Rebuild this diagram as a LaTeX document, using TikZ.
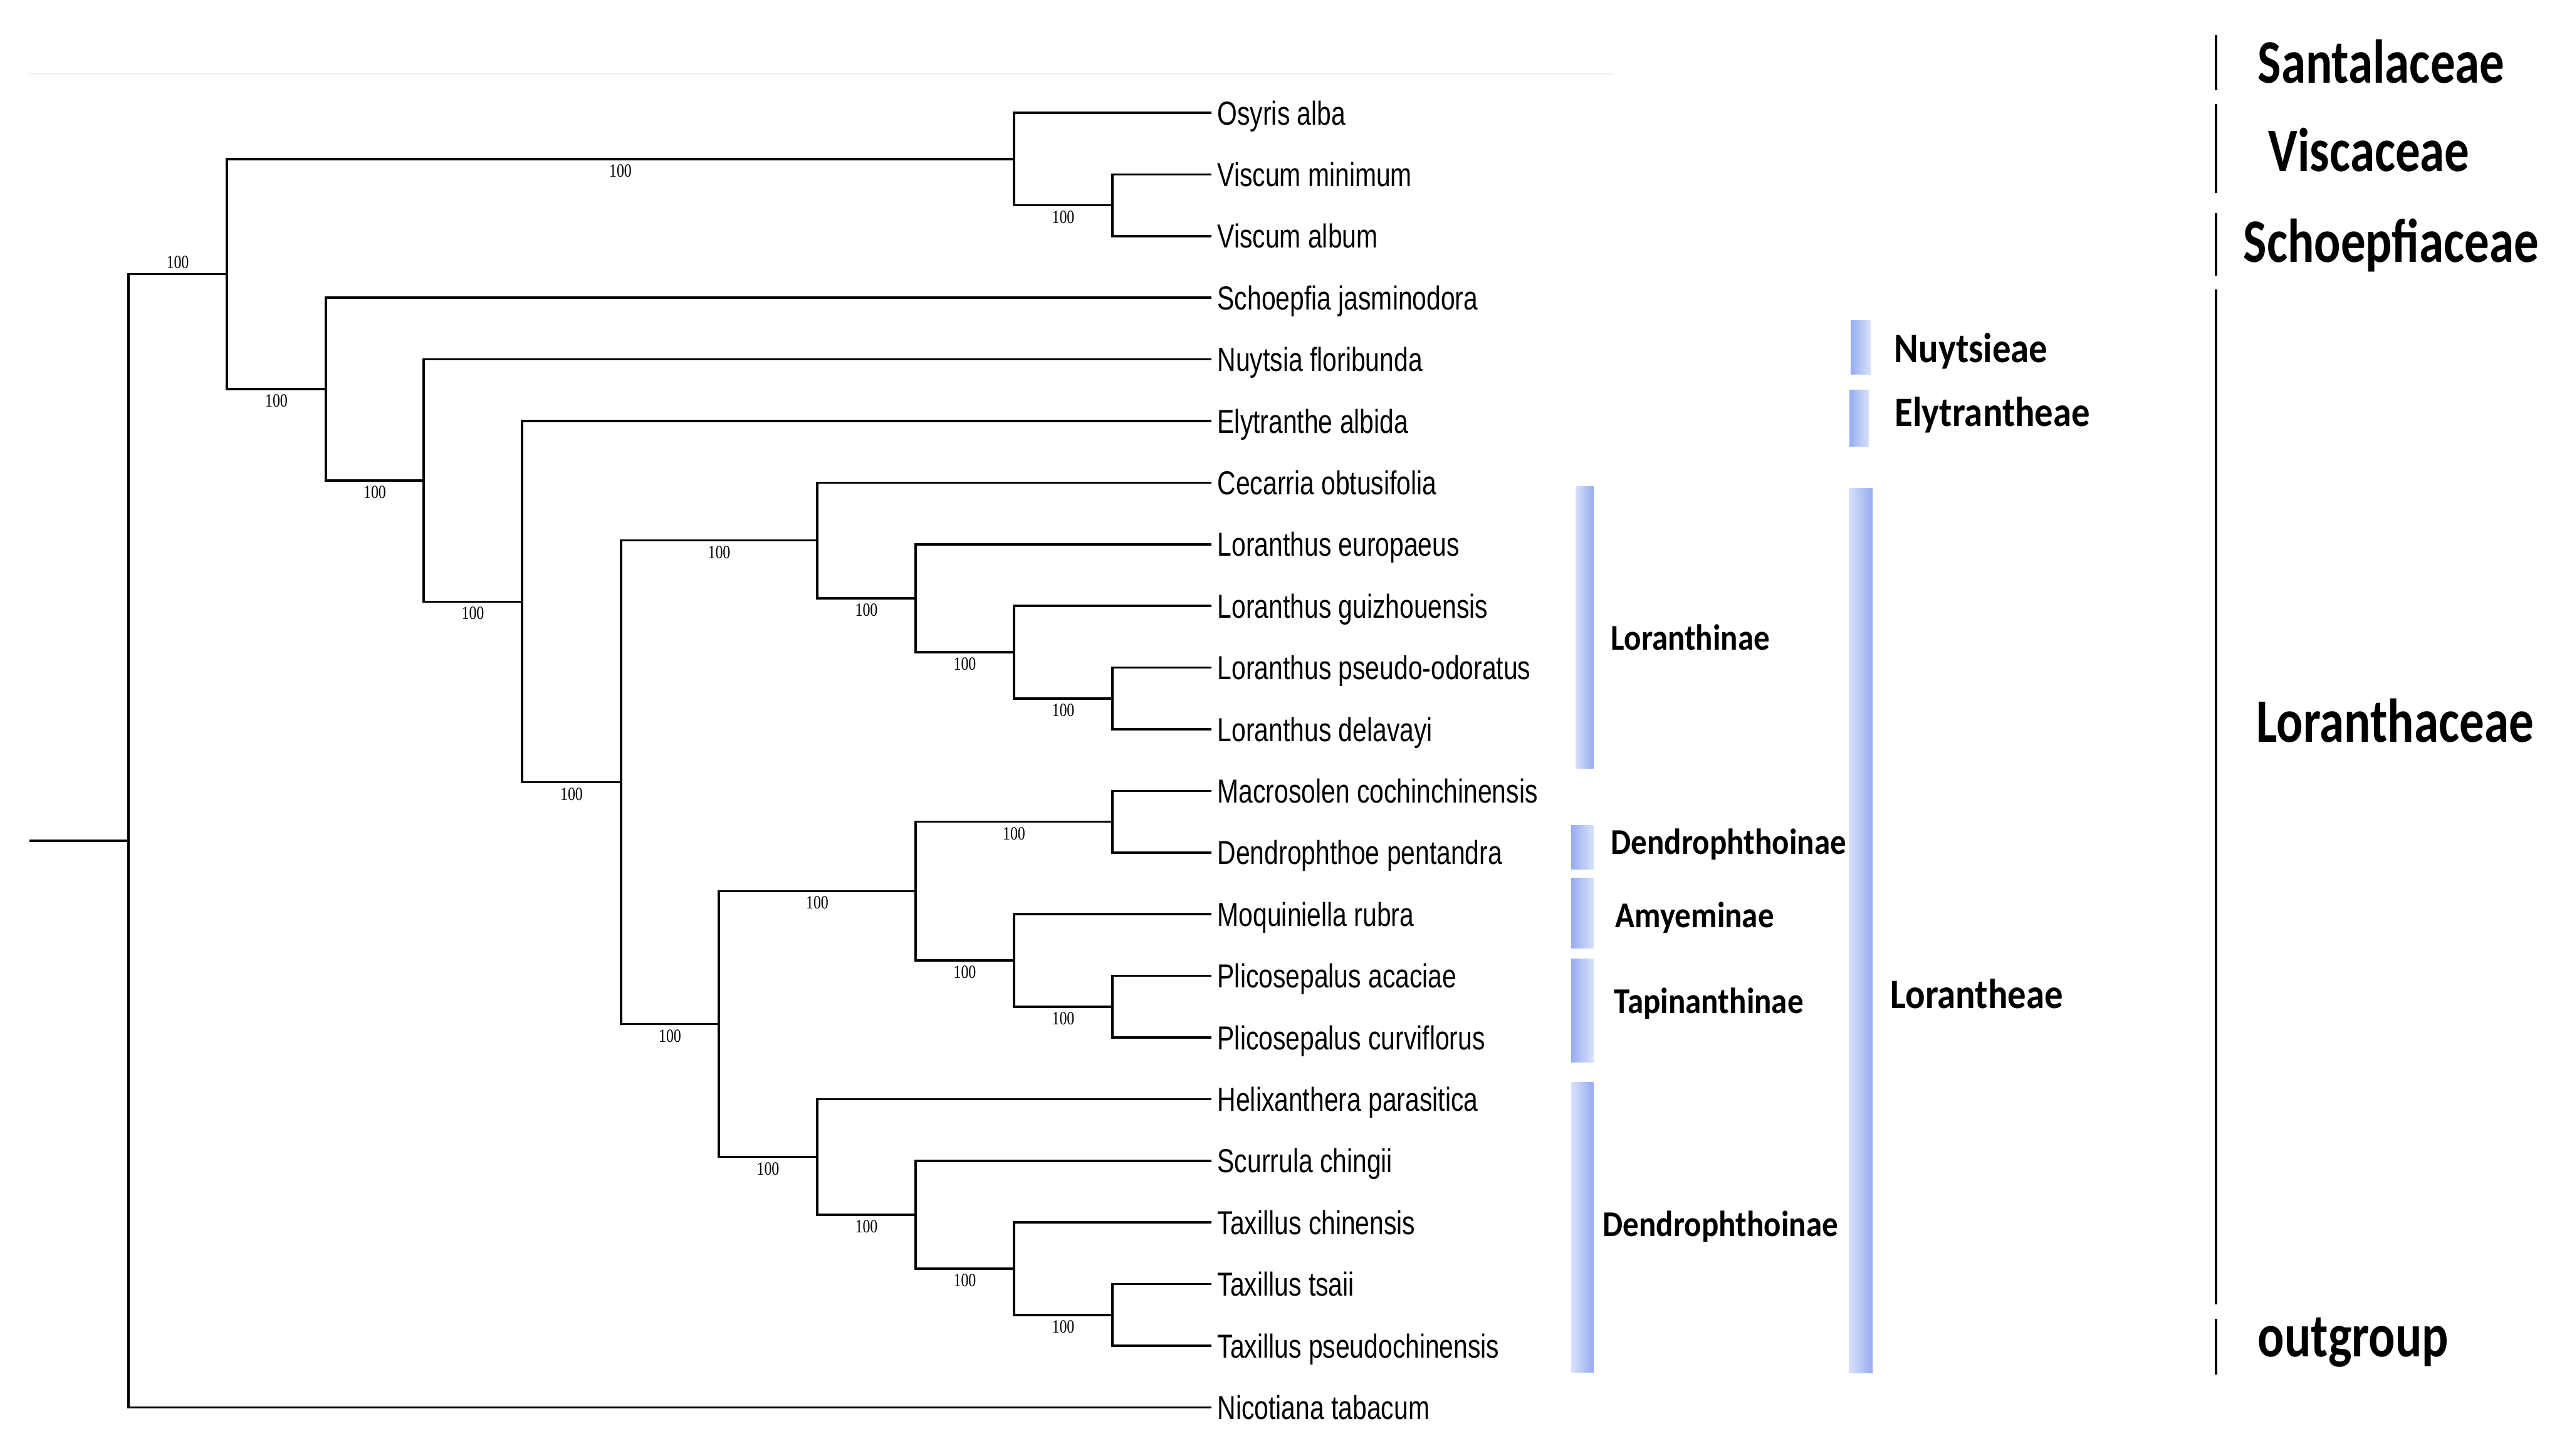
\documentclass[tikz,border=0pt]{standalone}
\usepackage{fontspec}
\usepackage{tikz}
\newfontfamily\tipfont[FakeStretch=0.77]{Liberation Sans}
\newfontfamily\bootfont[FakeStretch=0.8]{Liberation Serif}
\newfontfamily\famfont[FakeStretch=0.8]{Carlito}
\newfontfamily\clafont[FakeStretch=0.88]{Carlito}
\definecolor{barblue}{RGB}{150,172,240}
\definecolor{barpale}{RGB}{216,225,251}
\pgfdeclarelayer{bg}
\pgfsetlayers{bg,main}
\tikzset{
    every node/.style={inner sep=0mm},
    tip/.style={anchor=west, inner xsep=1.1mm, text height=3.8mm, text depth=0mm,
        font=\tipfont\fontsize{15.1}{18}\selectfont},
    boot/.style={pos=.75, below, inner sep=0.7mm, font=\bootfont\fontsize{8.5}{9}\selectfont},
    hv/.style={to path={|- (\tikztotarget) \tikztonodes}},
    branch/.style={line width=1pt, line cap=rect},
    fam/.style={anchor=west, text height=6.3mm, text depth=0mm,
        font=\famfont\bfseries\fontsize{28.1}{30}\selectfont},
    tribe/.style={anchor=west, text height=4.2mm, text depth=0mm,
        font=\clafont\bfseries\fontsize{19}{21}\selectfont},
    subtribe/.style={anchor=west, text height=3.7mm, text depth=0mm,
        font=\clafont\bfseries\fontsize{16.5}{18}\selectfont},
    darkleft/.style={left color=barblue, right color=barpale},
    darkright/.style={left color=barpale, right color=barblue},
    famline/.style={line width=1pt}
}

\begin{document}
\begin{tikzpicture}
    \useasboundingbox (0cm, 0cm) rectangle (40.96cm, -23.23cm);

    % tips
    \node (osyris) [tip] at (19.31cm, -1.800cm) {Osyris alba};
    \node (vminimum) [tip] at (19.31cm, -2.784cm) {Viscum minimum};
    \node (valbum) [tip] at (19.31cm, -3.768cm) {Viscum album};
    \node (schoepfia) [tip] at (19.31cm, -4.752cm) {Schoepfia jasminodora};
    \node (nuytsia) [tip] at (19.31cm, -5.736cm) {Nuytsia floribunda};
    \node (elytranthe) [tip] at (19.31cm, -6.720cm) {Elytranthe albida};
    \node (cecarria) [tip] at (19.31cm, -7.704cm) {Cecarria obtusifolia};
    \node (leuropaeus) [tip] at (19.31cm, -8.688cm) {Loranthus europaeus};
    \node (lguizhou) [tip] at (19.31cm, -9.672cm) {Loranthus guizhouensis};
    \node (lpseudo) [tip] at (19.31cm, -10.656cm) {Loranthus pseudo-odoratus};
    \node (ldelavayi) [tip] at (19.31cm, -11.640cm) {Loranthus delavayi};
    \node (macrosolen) [tip] at (19.31cm, -12.624cm) {Macrosolen cochinchinensis};
    \node (dendrophthoe) [tip] at (19.31cm, -13.608cm) {Dendrophthoe pentandra};
    \node (moquiniella) [tip] at (19.31cm, -14.592cm) {Moquiniella rubra};
    \node (placaciae) [tip] at (19.31cm, -15.576cm) {Plicosepalus acaciae};
    \node (plcurvi) [tip] at (19.31cm, -16.560cm) {Plicosepalus curviflorus};
    \node (helixanthera) [tip] at (19.31cm, -17.544cm) {Helixanthera parasitica};
    \node (scurrula) [tip] at (19.31cm, -18.528cm) {Scurrula chingii};
    \node (tchinensis) [tip] at (19.31cm, -19.512cm) {Taxillus chinensis};
    \node (ttsaii) [tip] at (19.31cm, -20.496cm) {Taxillus tsaii};
    \node (tpseudo) [tip] at (19.31cm, -21.480cm) {Taxillus pseudochinensis};
    \node (nicotiana) [tip] at (19.31cm, -22.464cm) {Nicotiana tabacum};

    % inner nodes
    \coordinate (stub) at (0.49cm, -13.420cm);
    \coordinate (root) at (2.05cm, -13.420cm);
    \coordinate (n1) at (3.62cm, -4.375cm);
    \coordinate (sv) at (16.18cm, -2.538cm);
    \coordinate (vis) at (17.75cm, -3.276cm);
    \coordinate (n2) at (5.20cm, -6.211cm);
    \coordinate (n3) at (6.76cm, -7.670cm);
    \coordinate (n4) at (8.33cm, -9.603cm);
    \coordinate (n5) at (9.91cm, -12.486cm);
    \coordinate (cec) at (13.04cm, -8.627cm);
    \coordinate (lor1) at (14.61cm, -9.549cm);
    \coordinate (lor2) at (16.18cm, -10.410cm);
    \coordinate (lor3) at (17.75cm, -11.148cm);
    \coordinate (low) at (11.47cm, -16.345cm);
    \coordinate (md) at (14.61cm, -14.223cm);
    \coordinate (mac) at (17.75cm, -13.116cm);
    \coordinate (moq) at (16.18cm, -15.330cm);
    \coordinate (pli) at (17.75cm, -16.068cm);
    \coordinate (hel) at (13.04cm, -18.467cm);
    \coordinate (tax1) at (14.61cm, -19.389cm);
    \coordinate (tax2) at (16.18cm, -20.250cm);
    \coordinate (tax3) at (17.75cm, -20.988cm);

    % groups
    \node (santalaceae) [fam] at (36.02cm, -1.01cm) {Santalaceae};
    \node (viscaceae) [fam] at (36.19cm, -2.42cm) {Viscaceae};
    \node (schoepfiaceae) [fam] at (35.79cm, -3.87cm) {Schoepfiaceae};
    \node (loranthaceae) [fam] at (36.00cm, -11.53cm) {Loranthaceae};
    \node (outgroup) [fam] at (36.02cm, -21.34cm) {outgroup};

    \node (nuytsieae) [tribe] at (30.22cm, -5.57cm) {Nuytsieae};
    \node (elytrantheae) [tribe] at (30.23cm, -6.59cm) {Elytrantheae};
    \node (lorantheae) [tribe] at (30.16cm, -15.88cm) {Lorantheae};

    \node (loranthinae) [subtribe] at (25.70cm, -10.19cm) {Loranthinae};
    \node (dendroA) [subtribe] at (25.70cm, -13.45cm) {Dendrophthoinae};
    \node (amyeminae) [subtribe] at (25.77cm, -14.62cm) {Amyeminae};
    \node (tapinanthinae) [subtribe] at (25.75cm, -15.99cm) {Tapinanthinae};
    \node (dendroB) [subtribe] at (25.57cm, -19.55cm) {Dendrophthoinae};

    \begin{pgfonlayer}{bg}
        \draw[black!6, line width=0.5pt] (0.47cm, -1.18cm) -- (25.73cm, -1.18cm);

        \shade[darkleft] (29.53cm, -5.11cm) rectangle (29.85cm, -5.97cm);
        \shade[darkleft] (29.51cm, -6.22cm) rectangle (29.82cm, -7.12cm);
        \shade[darkright] (29.50cm, -7.79cm) rectangle (29.88cm, -21.91cm);
        \shade[darkright] (25.14cm, -7.76cm) rectangle (25.43cm, -12.26cm);
        \shade[darkleft] (25.07cm, -13.17cm) rectangle (25.43cm, -13.87cm);
        \shade[darkleft] (25.07cm, -14.01cm) rectangle (25.43cm, -15.13cm);
        \shade[darkleft] (25.07cm, -15.30cm) rectangle (25.43cm, -16.95cm);
        \shade[darkright] (25.07cm, -17.27cm) rectangle (25.43cm, -21.90cm);

        \draw[famline] (35.36cm, -0.56cm) -- (35.36cm, -1.44cm);
        \draw[famline] (35.36cm, -1.66cm) -- (35.36cm, -3.08cm);
        \draw[famline] (35.36cm, -3.40cm) -- (35.36cm, -4.40cm);
        \draw[famline] (35.36cm, -4.62cm) -- (35.36cm, -20.82cm);
        \draw[famline] (35.36cm, -21.05cm) -- (35.36cm, -21.94cm);

        \draw[branch] (stub) edge (root);
        \draw[branch] (root) edge[hv] node[boot, above] {100} (n1);
        \draw[branch] (root) edge[hv] (nicotiana);

        \draw[branch] (n1) edge[hv] node[boot] {100} (sv);
        \draw[branch] (n1) edge[hv] node[boot] {100} (n2);
        \draw[branch] (sv) edge[hv] (osyris);
        \draw[branch] (sv) edge[hv] node[boot] {100} (vis);
        \draw[branch] (vis) edge[hv] (vminimum);
        \draw[branch] (vis) edge[hv] (valbum);

        \draw[branch] (n2) edge[hv] (schoepfia);
        \draw[branch] (n2) edge[hv] node[boot] {100} (n3);
        \draw[branch] (n3) edge[hv] (nuytsia);
        \draw[branch] (n3) edge[hv] node[boot] {100} (n4);
        \draw[branch] (n4) edge[hv] (elytranthe);
        \draw[branch] (n4) edge[hv] node[boot] {100} (n5);
        \draw[branch] (n5) edge[hv] node[boot] {100} (cec);
        \draw[branch] (n5) edge[hv] node[boot] {100} (low);

        \draw[branch] (cec) edge[hv] (cecarria);
        \draw[branch] (cec) edge[hv] node[boot] {100} (lor1);
        \draw[branch] (lor1) edge[hv] (leuropaeus);
        \draw[branch] (lor1) edge[hv] node[boot] {100} (lor2);
        \draw[branch] (lor2) edge[hv] (lguizhou);
        \draw[branch] (lor2) edge[hv] node[boot] {100} (lor3);
        \draw[branch] (lor3) edge[hv] (lpseudo);
        \draw[branch] (lor3) edge[hv] (ldelavayi);

        \draw[branch] (low) edge[hv] node[boot] {100} (md);
        \draw[branch] (low) edge[hv] node[boot] {100} (hel);
        \draw[branch] (md) edge[hv] node[boot] {100} (mac);
        \draw[branch] (md) edge[hv] node[boot] {100} (moq);
        \draw[branch] (mac) edge[hv] (macrosolen);
        \draw[branch] (mac) edge[hv] (dendrophthoe);
        \draw[branch] (moq) edge[hv] (moquiniella);
        \draw[branch] (moq) edge[hv] node[boot] {100} (pli);
        \draw[branch] (pli) edge[hv] (placaciae);
        \draw[branch] (pli) edge[hv] (plcurvi);

        \draw[branch] (hel) edge[hv] (helixanthera);
        \draw[branch] (hel) edge[hv] node[boot] {100} (tax1);
        \draw[branch] (tax1) edge[hv] (scurrula);
        \draw[branch] (tax1) edge[hv] node[boot] {100} (tax2);
        \draw[branch] (tax2) edge[hv] (tchinensis);
        \draw[branch] (tax2) edge[hv] node[boot] {100} (tax3);
        \draw[branch] (tax3) edge[hv] (ttsaii);
        \draw[branch] (tax3) edge[hv] (tpseudo);
    \end{pgfonlayer}
\end{tikzpicture}
\end{document}
